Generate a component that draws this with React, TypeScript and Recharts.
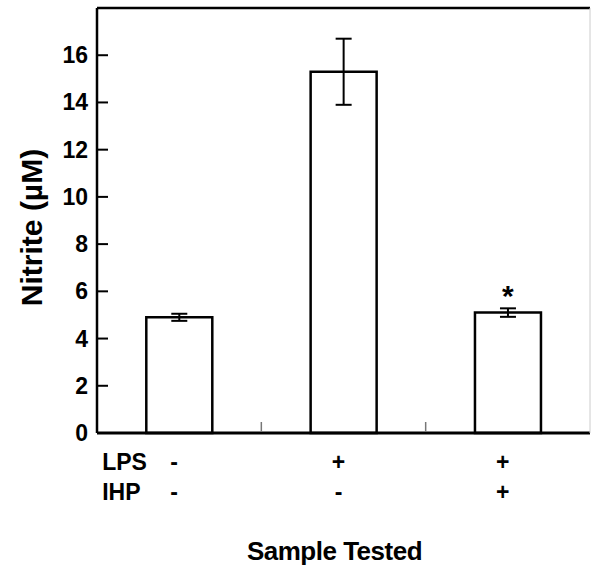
import React from 'react';
import { BarChart, Bar, XAxis, YAxis, ErrorBar, LabelList, ReferenceLine } from 'recharts';

const samples = ['Control', 'LPS', 'LPS + IHP'];
const lpsSigns = ['-', '+', '+'];
const ihpSigns = ['-', '-', '+'];
const nitrite = [4.9, 15.3, 5.1];
const nitriteErr = [0.15, 1.4, 0.18];
const marks = ['', '', '*'];
const yTicks = [0, 2, 4, 6, 8, 10, 12, 14, 16];
const rowLabels = ['LPS', 'IHP'];

const data = samples.map((s, i) => ({
  sample: s,
  nitrite: nitrite[i],
  err: nitriteErr[i],
  mark: marks[i],
}));

const FONT = '"Liberation Sans", Arial, Helvetica, sans-serif';

const SampleTick = (props: any) => {
  const { x, y, index, payload } = props;
  const style = { fontFamily: FONT, fontWeight: 700, fontSize: 23, fill: '#000' };
  const half = payload && payload.offset ? payload.offset : 0;
  return (
    <g>
      {index === 0 && (
        <>
          <text x={x - 77} y={y + 37} style={style}>{rowLabels[0]}</text>
          <text x={x - 77} y={y + 67} style={style}>{rowLabels[1]}</text>
        </>
      )}
      {/* small inward tick at the right edge of each inner band */}
      {index < samples.length - 1 && half > 0 && (
        <line x1={x + half} x2={x + half} y1={y - 11} y2={y - 1} stroke="#777" strokeWidth={1.5} />
      )}
      <text x={x - 5} y={y + 37} textAnchor="middle" style={style}>{lpsSigns[index]}</text>
      <text x={x - 5} y={y + 67} textAnchor="middle" style={style}>{ihpSigns[index]}</text>
    </g>
  );
};

// value label plus an inward tick mark
const ValueTick = (props: any) => {
  const { x, y, payload } = props;
  return (
    <g>
      <line x1={x + 9} x2={x + 20} y1={y} y2={y} stroke="#000" strokeWidth={2} />
      <text
        x={x}
        y={y}
        textAnchor="end"
        dominantBaseline="central"
        style={{ fontFamily: FONT, fontWeight: 700, fontSize: 23, fill: '#000' }}
      >
        {payload.value}
      </text>
    </g>
  );
};

const YTitle = (props: any) => {
  const vb = props.viewBox || { x: 0, y: 8, width: 97, height: 425 };
  const cx = vb.x + 31;
  const cy = vb.y + vb.height / 2 + 7;
  return (
    <text
      x={cx}
      y={cy}
      transform={`rotate(-90 ${cx} ${cy})`}
      textAnchor="middle"
      dominantBaseline="central"
      style={{ fontFamily: FONT, fontWeight: 700, fontSize: 30, fill: '#000' }}
    >
      Nitrite (µM)
    </text>
  );
};

export default function App() {
  return (
    <div style={{ position: 'absolute', left: 0, top: 0, background: '#fff' }}>
      <BarChart
        width={592}
        height={567}
        data={data}
        margin={{ top: 8, right: 0, left: 0, bottom: 0 }}
        barCategoryGap="30%"
      >
        <XAxis
          dataKey="sample"
          height={134}
          axisLine={{ stroke: '#000', strokeWidth: 3 }}
          tickLine={false}
          tickSize={0}
          tickMargin={0}
          interval={0}
          tick={<SampleTick />}
          label={{
            value: 'Sample Tested',
            position: 'insideBottom',
            offset: 7,
            dx: -9,
            style: { fontFamily: FONT, fontWeight: 700, fontSize: 26, fill: '#000', letterSpacing: -0.5 },
          }}
        />
        <YAxis
          width={97}
          domain={[0, 18]}
          ticks={yTicks}
          interval={0}
          tickSize={0}
          tickMargin={9}
          axisLine={{ stroke: '#000', strokeWidth: 2.5 }}
          tickLine={false}
          tick={<ValueTick />}
          label={<YTitle />}
        />
        <YAxis
          yAxisId="right"
          orientation="right"
          width={2}
          domain={[0, 18]}
          tick={false}
          tickLine={false}
          axisLine={{ stroke: '#ccc', strokeWidth: 1 }}
        />
        <ReferenceLine y={18} stroke="#000" strokeWidth={2.5} />
        <Bar dataKey="nitrite" fill="#fff" stroke="#000" strokeWidth={2.5} isAnimationActive={false}>
          <ErrorBar dataKey="err" width={8} stroke="#000" strokeWidth={2} />
          <LabelList
            dataKey="mark"
            position="top"
            offset={7}
            style={{ fontFamily: FONT, fontWeight: 700, fontSize: 30, fill: '#000' }}
          />
        </Bar>
      </BarChart>
    </div>
  );
}
